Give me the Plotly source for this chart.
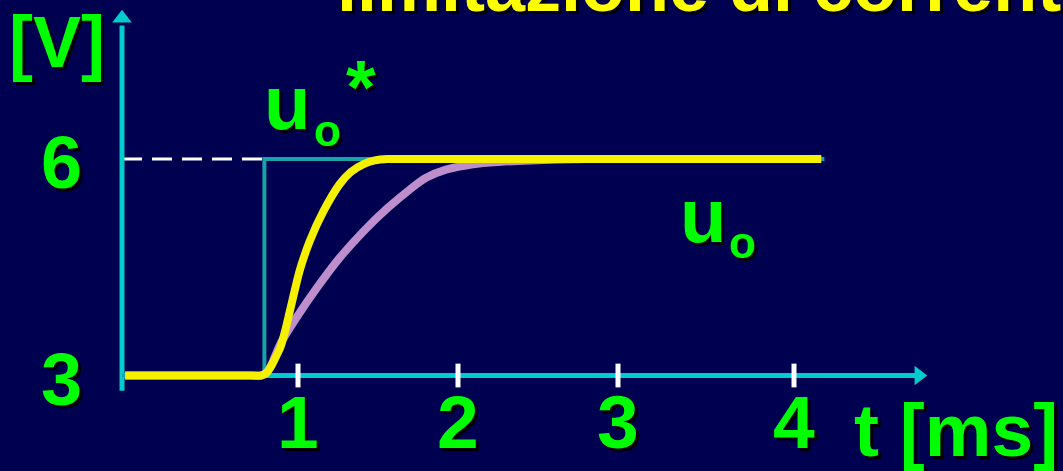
import plotly.graph_objects as go

# Reference step u_o* (ms, V)
t_ref = [-0.1, 0.79, 0.79, 4.29]
u_ref = [3.0, 3.0, 6.0, 6.0]

# Output u_o with current limitation (yellow)
t_lim = [-0.08, 0.40, 0.70, 0.77, 0.80, 0.83, 0.86, 0.89, 0.92, 0.95, 1.01, 1.075, 1.16,
         1.26, 1.33, 1.41, 1.48, 1.56, 1.65, 2.5, 4.27]
u_lim = [3.0, 3.0, 3.0, 3.0, 3.03, 3.12, 3.25, 3.39, 3.62, 3.90, 4.45, 4.87, 5.28,
         5.65, 5.82, 5.93, 5.98, 6.0, 6.0, 6.0, 6.0]

# Output u_o without limitation (lavender)
t_free = [-0.08, 0.40, 0.70, 0.77, 0.81, 0.84, 0.89, 0.99, 1.12, 1.26, 1.41, 1.56, 1.70,
          1.80, 1.92, 2.05, 2.2, 2.45, 2.8, 3.5, 4.27]
u_free = [3.0, 3.0, 3.0, 3.0, 3.06, 3.18, 3.44, 3.80, 4.22, 4.63, 5.00, 5.32, 5.58,
          5.74, 5.85, 5.91, 5.95, 5.98, 6.0, 6.0, 6.0]

# Axis ticks
x_tick_pos = [1, 2, 3, 4.1]
x_tick_text = ["1", "2", "3", "4"]
y_tick_pos = [6, 3]
y_tick_text = ["6", "3"]

W, H = 1063, 471
BG = "#000050"
GREEN = "#00ff00"
CYAN = "#00cccc"
TEAL = "#16a4a8"
FONT = "Liberation Sans"
SHADOW = "3px 3px 0px #000000"

X_RANGE = [-0.8625, 5.78125]
Y_RANGE = [1.6767, 8.203]
AXIS_T = -0.1  # position of the vertical axis

fig = go.Figure()

# dashed guide at the reference level
fig.add_trace(go.Scatter(x=[AXIS_T, t_ref[1]], y=[u_ref[2], u_ref[2]], mode="lines",
                         line=dict(color="white", width=3, dash="20px,10px"), hoverinfo="skip"))
# axes
fig.add_trace(go.Scatter(x=[AXIS_T, AXIS_T], y=[2.79, 7.85], mode="lines",
                         line=dict(color=CYAN, width=5), hoverinfo="skip"))
fig.add_trace(go.Scatter(x=[AXIS_T, 4.86], y=[3.0, 3.0], mode="lines",
                         line=dict(color=CYAN, width=5), hoverinfo="skip"))
fig.add_trace(go.Scatter(x=[AXIS_T], y=[7.95], mode="markers",
                         marker=dict(symbol="triangle-up", size=17, color=CYAN), hoverinfo="skip"))
fig.add_trace(go.Scatter(x=[4.88], y=[3.0], mode="markers",
                         marker=dict(symbol="triangle-right", size=17, color=CYAN), hoverinfo="skip"))
# tick marks
fig.add_trace(go.Scatter(x=x_tick_pos, y=[3.0] * len(x_tick_pos), mode="markers",
                         marker=dict(symbol="line-ns", size=17, line=dict(color="white", width=5)),
                         hoverinfo="skip"))
# curves
fig.add_trace(go.Scatter(x=t_ref, y=u_ref, mode="lines",
                         line=dict(color=TEAL, width=4), hoverinfo="skip"))
fig.add_trace(go.Scatter(x=t_free, y=u_free, mode="lines",
                         line=dict(color="rgba(222,166,226,0.85)", width=8, shape="spline", smoothing=0.8),
                         hoverinfo="skip"))
fig.add_trace(go.Scatter(x=t_lim, y=u_lim, mode="lines",
                         line=dict(color="#f4f000", width=8, shape="spline", smoothing=0.6),
                         hoverinfo="skip"))


def label(text, px, py, size, color=GREEN, xanchor="center"):
    fig.add_annotation(text=text, x=px / W, y=1 - py / H, xref="paper", yref="paper",
                       xanchor=xanchor, yanchor="middle", showarrow=False,
                       font=dict(family=FONT, size=size, color=color, weight="bold", shadow=SHADOW))


for pos, txt in zip(x_tick_pos, x_tick_text):
    fig.add_annotation(text=txt, x=pos, y=1 - 422 / H, xref="x", yref="paper",
                       xanchor="center", yanchor="middle", showarrow=False,
                       font=dict(family=FONT, size=75, color=GREEN, weight="bold", shadow=SHADOW))
for pos, txt in zip(y_tick_pos, y_tick_text):
    fig.add_annotation(text=txt, x=61 / W, y=pos, xref="paper", yref="y",
                       xanchor="center", yanchor="middle", showarrow=False, yshift=-4,
                       font=dict(family=FONT, size=74, color=GREEN, weight="bold", shadow=SHADOW))

label("[V]", 57, 42, 72)
label("t [ms]", 956, 430, 75)
label("u", 287, 103, 76)
label("o", 327, 131, 44)
label("*", 361, 87, 76)
label("u", 703, 215, 76)
label("o", 742, 242, 44)
label("limitazione di corrente", 335, -14, 72, color="#ffff00", xanchor="left")

fig.update_layout(
    width=W, height=H,
    margin=dict(l=0, r=0, t=0, b=0),
    paper_bgcolor=BG, plot_bgcolor=BG,
    showlegend=False,
    xaxis=dict(range=X_RANGE, visible=False, fixedrange=True),
    yaxis=dict(range=Y_RANGE, visible=False, fixedrange=True),
)

fig.write_html("out.html", config={"displayModeBar": False})
